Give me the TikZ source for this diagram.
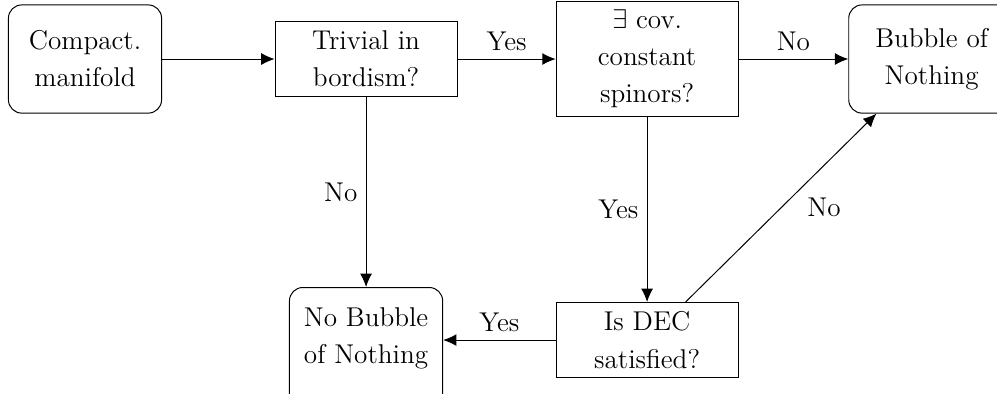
\documentclass[tikz,border=0pt]{standalone}
\usepackage{amsmath,amssymb}
\usetikzlibrary{positioning,arrows.meta}
\tikzset{
  endbox/.style={draw,rounded corners=1.9mm,align=center,
    minimum width=2.18cm,minimum height=1.54cm},
  askbox/.style={draw,align=center,inner sep=3.3pt,
    minimum width=2.59cm,minimum height=1.07cm}
}
\begin{document}
\begin{tikzpicture}[>={Latex[length=1.9mm,width=1.7mm]},
    font=\fontsize{11}{15}\selectfont]
    \useasboundingbox (-1.21,0.84) rectangle (12.98,-4.754);
    \node (mfd) [endbox] at (0,0) {Compact.\\manifold};
    \node (bord) [askbox] at (4,0) {Trivial in\\bordism?};
    \node (spin) [askbox] at (8,0) {$\exists$ cov.\\constant\\spinors?};
    \node (bon) [endbox,minimum width=2.36cm] at (12.05,0) {Bubble of\\Nothing};
    \node (nobon) [endbox,anchor=north,minimum height=1.85cm,text depth=14pt]
      at (4,-3.245) {No Bubble\\of Nothing};
    \node (dec) [askbox] at (8,-4) {Is DEC\\satisfied?};
    \draw[->] (mfd) edge (bord);
    \draw[->] (bord) edge node [above] {Yes} (spin);
    \draw[->] (spin) edge node [above] {No} (bon);
    \draw[->] (bord) edge node [left] {No} (nobon);
    \draw[->] (spin) edge node [left] {Yes} (dec);
    \draw[->] (dec) edge node [above] {Yes} (nobon.east |- dec);
    \draw[->] (dec) edge node [right=2.5mm] {No} (bon);
  \end{tikzpicture}
\end{document}
